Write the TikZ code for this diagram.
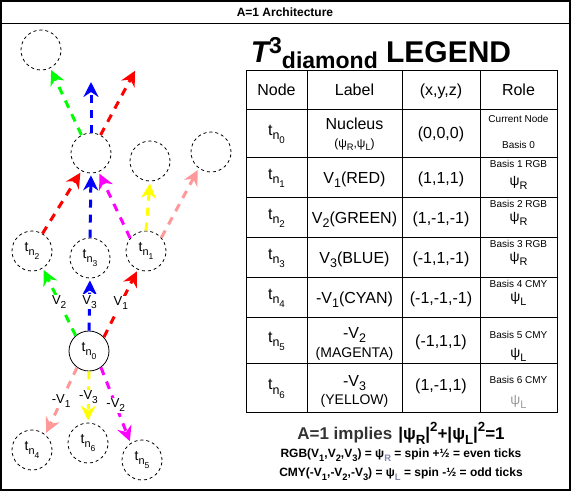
\documentclass[tikz,border=0pt]{standalone}
\usepackage{fontspec}
\setmainfont{Liberation Sans}
\usetikzlibrary{arrows.meta}
\definecolor{vgreen}{HTML}{00FF00}
\definecolor{vblue}{HTML}{0000FF}
\definecolor{vred}{HTML}{FF0000}
\definecolor{vmag}{HTML}{FF00FF}
\definecolor{vyellow}{HTML}{FFFF00}
\definecolor{vpink}{HTML}{FF9999}
\definecolor{txtgray}{HTML}{333333}
\definecolor{psigray}{HTML}{999999}
\definecolor{subblue}{HTML}{7F86B0}
\makeatletter
\def\fsz#1{\fontsize{#1}{#1}\selectfont}
\def\lo#1{\raisebox{-0.3em}{\fontsize{\fpeval{0.78*\f@size}}{0}\selectfont #1}}
\def\hi#1{\raisebox{0.45em}{\fontsize{\fpeval{0.78*\f@size}}{0}\selectfont #1}}
\makeatother
\def\tsub#1{t\lo{n\lo{#1}}}
\tikzset{
	nd/.style={circle, draw, dash pattern=on 3pt off 3pt, line width=0.8pt, minimum size=40pt, inner sep=0pt, font=\fsz{14}},
	core/.style={circle, draw, line width=0.8pt, minimum size=40pt, inner sep=0pt, font=\fsz{14}},
	vec/.style={line width=3pt, dash pattern=on 8pt off 7pt, shorten >=2pt, -{Stealth[length=15pt,width=15pt,inset=5pt]}},
	vlbl/.style={fill=white, text=black, inner sep=1pt, font=\fsz{13}},
	cell/.style={anchor=base, inner sep=0pt, font=\fsz{16}},
	tiny/.style={anchor=base, inner sep=0pt, font=\fsz{10}},
	psi/.style={anchor=base, inner sep=0pt, font=\fsz{14}},
	grid/.style={line width=1pt},
}

\begin{document}
\begin{tikzpicture}[x=1pt, y=-1pt]
		%%%%% START %%%%%
		
		\useasboundingbox (0,0) rectangle (571,491);
		\draw[line width=1.5pt] (0.75,0.75) rectangle (570,490);
		\draw[grid] (0.75,23) -- (570,23);
		\node[anchor=base, font=\fsz{12}\bfseries] (head) at (285,16) {A=1 Architecture};
		
		\node[nd] (upL) at (41,50) {};
		\node[nd] (mid) at (91,153) {};
		\node[nd] (up1) at (150,161) {};
		\node[nd] (upR) at (211,152) {};
		\coordinate (tipB) at (91,80);
		\coordinate (tipR) at (136,69);
		
		\node[nd] (t2) at (32,251) {\tsub{2}};
		\node[nd] (t3) at (90,258) {\tsub{3}};
		\node[nd] (t1) at (146,251) {\tsub{1}};
		\node[core] (t0) at (89,351) {\tsub{0}};
		\node[nd] (t4) at (32,450) {\tsub{4}};
		\node[nd] (t6) at (88,443) {\tsub{6}};
		\node[nd] (t5) at (142,460) {\tsub{5}};
		
		\draw[vec, vgreen] (mid.118) -- (upL.-63);
		\draw[vec, vblue] (mid.north) -- (tipB);
		\draw[vec, vred] (mid.62) -- (tipR);
		
		\draw[vec, vred] (t2.59) -- (mid.-118);
		\draw[vec, vblue] (t3.north) -- (mid.south);
		\draw[vec, vmag] (t1.141) -- (mid.-68);
		\draw[vec, vyellow] (t1.north) -- (up1.south);
		\draw[vec, vpink] (t1.41) -- (upR.-127);
		
		\draw[vec, vgreen] (t0.131) -- node[vlbl] (v2) {V\lo{2}} (t2.-58);
		\draw[vec, vblue] (t0.north) -- node[vlbl, pos=0.55] (v3) {V\lo{3}} (t3.south);
		\draw[vec, vred] (t0.43) -- node[vlbl] (v1) {V\lo{1}} (t1.-114);
		\draw[vec, vpink] (t0.-126) -- node[vlbl] (m1) {-V\lo{1}} (t4.49);
		\draw[vec, vyellow] (t0.south) -- node[vlbl] (m3) {-V\lo{3}} (t6.north);
		\draw[vec, vmag] (t0.-54) -- node[vlbl] (m2) {-V\lo{2}} (t5.124);
		
		\node[anchor=base, font=\fsz{30}\bfseries] (title) at (381,62) {\itshape T\upshape\raisebox{9pt}{\fsz{23}3}\raisebox{-6pt}{\fsz{23}diamond} LEGEND};
		
		\draw[grid] (246,70) rectangle (557,412);
		\foreach \y in {109,157,197,237,277,317,363}
			\draw[grid] (246,\y) -- (557,\y);
		\foreach \x in {307,402,480}
			\draw[grid] (\x,70) -- (\x,412);
		
		\node[cell] (hnode) at (276.5,95.5) {Node};
		\node[cell] (hlabel) at (354.5,95.5) {Label};
		\node[cell] (hxyz) at (441,95.5) {(x,y,z)};
		\node[cell] (hrole) at (518.5,95.5) {Role};
		
		\node[cell] (n0) at (276.5,135) {\tsub{0}};
		\node[cell] (n1) at (276.5,179) {\tsub{1}};
		\node[cell] (n2) at (276.5,219) {\tsub{2}};
		\node[cell] (n3) at (276.5,259) {\tsub{3}};
		\node[cell] (n4) at (276.5,299) {\tsub{4}};
		\node[cell] (n5) at (276.5,342) {\tsub{5}};
		\node[cell] (n6) at (276.5,389.5) {\tsub{6}};
		
		\node[cell] (lab0) at (354.5,129) {Nucleus};
		\node[cell, font=\fsz{12}] (lab0b) at (354.5,147) {(ψ\lo{R},ψ\lo{L})};
		\node[cell] (lab1) at (354.5,183) {V\lo{1}(RED)};
		\node[cell] (lab2) at (354.5,223) {V\lo{2}(GREEN)};
		\node[cell] (lab3) at (354.5,263) {V\lo{3}(BLUE)};
		\node[cell] (lab4) at (354.5,303) {-V\lo{1}(CYAN)};
		\node[cell] (lab5) at (354.5,338) {-V\lo{2}};
		\node[cell, font=\fsz{14}] (lab5b) at (354.5,357) {(MAGENTA)};
		\node[cell] (lab6) at (354.5,386) {-V\lo{3}};
		\node[cell, font=\fsz{14}] (lab6b) at (354.5,404) {(YELLOW)};
		
		\node[cell] (xyz0) at (441,138) {(0,0,0)};
		\node[cell] (xyz1) at (441,183) {(1,1,1)};
		\node[cell] (xyz2) at (441,223) {(1,-1,-1)};
		\node[cell] (xyz3) at (441,263) {(-1,1,-1)};
		\node[cell] (xyz4) at (441,303) {(-1,-1,-1)};
		\node[cell] (xyz5) at (441,346) {(-1,1,1)};
		\node[cell] (xyz6) at (441,390) {(1,-1,1)};
		
		\node[tiny] (role0) at (518.5,122.5) {Current Node};
		\node[tiny] (role0b) at (518.5,148.5) {Basis 0};
		\node[tiny] (role1) at (518.5,167) {Basis 1 RGB};
		\node[psi] (psi1) at (518.5,185) {ψ\lo{R}};
		\node[tiny] (role2) at (518.5,207) {Basis 2 RGB};
		\node[psi] (psi2) at (518.5,221) {ψ\lo{R}};
		\node[tiny] (role3) at (518.5,247) {Basis 3 RGB};
		\node[psi] (psi3) at (518.5,261) {ψ\lo{R}};
		\node[tiny] (role4) at (518.5,287) {Basis 4 CMY};
		\node[psi] (psi4) at (518.5,301) {ψ\lo{L}};
		\node[tiny] (role5) at (518.5,338.5) {Basis 5 CMY};
		\node[psi] (psi5) at (518.5,357) {ψ\lo{L}};
		\node[tiny] (role6) at (518.5,383.5) {Basis 6 CMY};
		\node[psi, text=psigray] (psi6) at (518.5,404) {ψ\lo{L}};
		
		\node[anchor=base, font=\fsz{17}\bfseries] (rule) at (401,439) {\textcolor{txtgray}{A=1 implies}\hspace{6pt}|ψ\lo{R}|\hi{2}+|ψ\lo{L}|\hi{2}=1};
		\node[anchor=base, font=\fsz{12}\bfseries] (rgb) at (401,457.5) {RGB(V\lo{1},V\lo{2},V\lo{3}) = ψ\lo{\color{subblue}R} = spin +½ = even ticks};
		\node[anchor=base, font=\fsz{12}\bfseries] (cmy) at (401,476.5) {CMY(-V\lo{1},-V\lo{2},-V\lo{3}) = ψ\lo{\color{subblue}L} = spin -½ = odd ticks};
		
		%%%%% END %%%%%
\end{tikzpicture}
\end{document}
